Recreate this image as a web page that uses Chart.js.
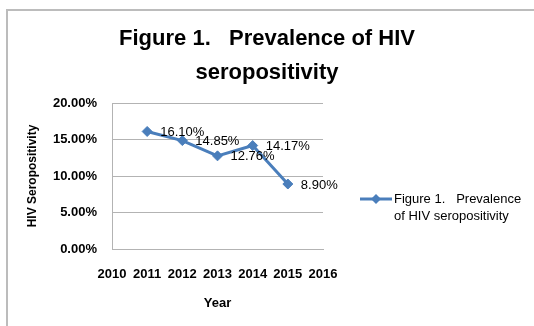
<!DOCTYPE html>
<html>
<head>
<meta charset="utf-8">
<script src="https://cdn.jsdelivr.net/npm/chart.js@4.4.0/dist/chart.umd.min.js"></script>
<style>
    body { margin: 0; background: #fff; }
    #wrap { position: relative; width: 534px; height: 326px; overflow: hidden; }
    #frame { position: absolute; left: 6px; top: 9px; width: 600px; height: 400px; border-top: 2px solid #bcbcbc; border-left: 2px solid #bcbcbc; }
    #chart { position: absolute; left: 0; top: 0; }
</style>
</head>
<body>
<div id="wrap">
    <div id="frame"></div>
    <canvas id="chart" width="534" height="326"></canvas>
</div>
<script>
// data
const years = [2011, 2012, 2013, 2014, 2015];
const prevalence = [16.10, 14.85, 12.76, 14.17, 8.90];
const xTickRange = [2010, 2016];
const yTickRange = [0, 20];
const titleLines = ['Figure 1.   Prevalence of HIV', 'seropositivity'];
const legendLines = ['Figure 1.   Prevalence', 'of HIV seropositivity'];

const FONT = "'Liberation Sans', Arial, sans-serif";
const BLUE = '#4a7ebb';

const pointLabels = {
    id: 'pointLabels',
    afterDatasetsDraw(chart) {
        const ctx = chart.ctx;
        const meta = chart.getDatasetMeta(0);
        ctx.save();
        ctx.font = '13px ' + FONT;
        ctx.fillStyle = '#000';
        ctx.textAlign = 'left';
        ctx.textBaseline = 'middle';
        meta.data.forEach((pt, i) => {
            ctx.fillText(prevalence[i].toFixed(2) + '%', pt.x + 13, pt.y + 1);
        });
        ctx.restore();
    }
};

// two-line legend to the right of the plot
const sideLegend = {
    id: 'sideLegend',
    afterDraw(chart) {
        const ctx = chart.ctx;
        const ds = chart.data.datasets[0];
        const x0 = chart.chartArea.right + 37, y0 = 199;
        ctx.save();
        ctx.strokeStyle = ds.borderColor;
        ctx.lineWidth = 3;
        ctx.beginPath();
        ctx.moveTo(x0, y0);
        ctx.lineTo(x0 + 32, y0);
        ctx.stroke();
        ctx.fillStyle = ds.backgroundColor;
        ctx.beginPath();
        ctx.moveTo(x0 + 16, y0 - 5);
        ctx.lineTo(x0 + 21, y0);
        ctx.lineTo(x0 + 16, y0 + 5);
        ctx.lineTo(x0 + 11, y0);
        ctx.closePath();
        ctx.fill();
        ctx.font = '13px ' + FONT;
        ctx.fillStyle = '#000';
        ctx.textBaseline = 'middle';
        legendLines.forEach((t, i) => ctx.fillText(t, x0 + 34, y0 + i * 17));
        ctx.restore();
    }
};

new Chart(document.getElementById('chart'), {
    type: 'line',
    data: {
        datasets: [{
            label: legendLines.join(' '),
            data: years.map((y, i) => ({x: y, y: prevalence[i]})),
            borderColor: BLUE,
            backgroundColor: BLUE,
            borderWidth: 3,
            pointStyle: 'rectRot',
            pointRadius: 5,
            pointBorderWidth: 1,
            tension: 0
        }]
    },
    options: {
        responsive: false,
        animation: false,
        devicePixelRatio: 1,
        layout: { padding: { left: 0, right: 0, top: 0, bottom: 15 } },
        plugins: {
            legend: { display: false },
            tooltip: { enabled: false },
            title: {
                display: true,
                text: titleLines,
                color: '#000',
                font: { family: FONT, size: 22, weight: 'bold', lineHeight: 34 / 22 },
                padding: { top: 22, bottom: 13 }
            }
        },
        scales: {
            x: {
                type: 'linear',
                min: xTickRange[0],
                max: xTickRange[1],
                afterFit(scale) { scale.height = 62; },
                grid: { display: false, drawTicks: false },
                border: { display: true, color: '#b3b3b3', width: 1 },
                ticks: {
                    stepSize: 1,
                    padding: 18,
                    maxRotation: 0,
                    minRotation: 0,
                    autoSkip: false,
                    color: '#000',
                    font: { family: FONT, size: 13, weight: 'bold' },
                    callback: v => String(v)
                },
                title: {
                    display: true,
                    text: 'Year',
                    color: '#000',
                    font: { family: FONT, size: 13, weight: 'bold' },
                    padding: { top: 15, bottom: 0 }
                }
            },
            y: {
                min: yTickRange[0],
                max: yTickRange[1],
                afterFit(scale) { scale.width = 112; },
                grid: { color: '#b3b3b3', drawTicks: false },
                border: { display: true, color: '#b3b3b3', width: 1 },
                ticks: {
                    stepSize: 5,
                    padding: 15,
                    color: '#000',
                    font: { family: FONT, size: 13, weight: 'bold' },
                    callback: v => v.toFixed(2) + '%'
                },
                title: {
                    display: true,
                    text: 'HIV Seropositivity',
                    color: '#000',
                    font: { family: FONT, size: 12, weight: 'bold' },
                    padding: { top: 25, bottom: 0 }
                }
            },
            // empty right-hand axis that only reserves room for the legend
            side: {
                position: 'right',
                min: 0,
                max: 1,
                afterFit(scale) { scale.width = 211; },
                grid: { display: false, drawTicks: false },
                border: { display: false },
                ticks: { display: false }
            }
        }
    },
    plugins: [pointLabels, sideLegend]
});
</script>
</body>
</html>
